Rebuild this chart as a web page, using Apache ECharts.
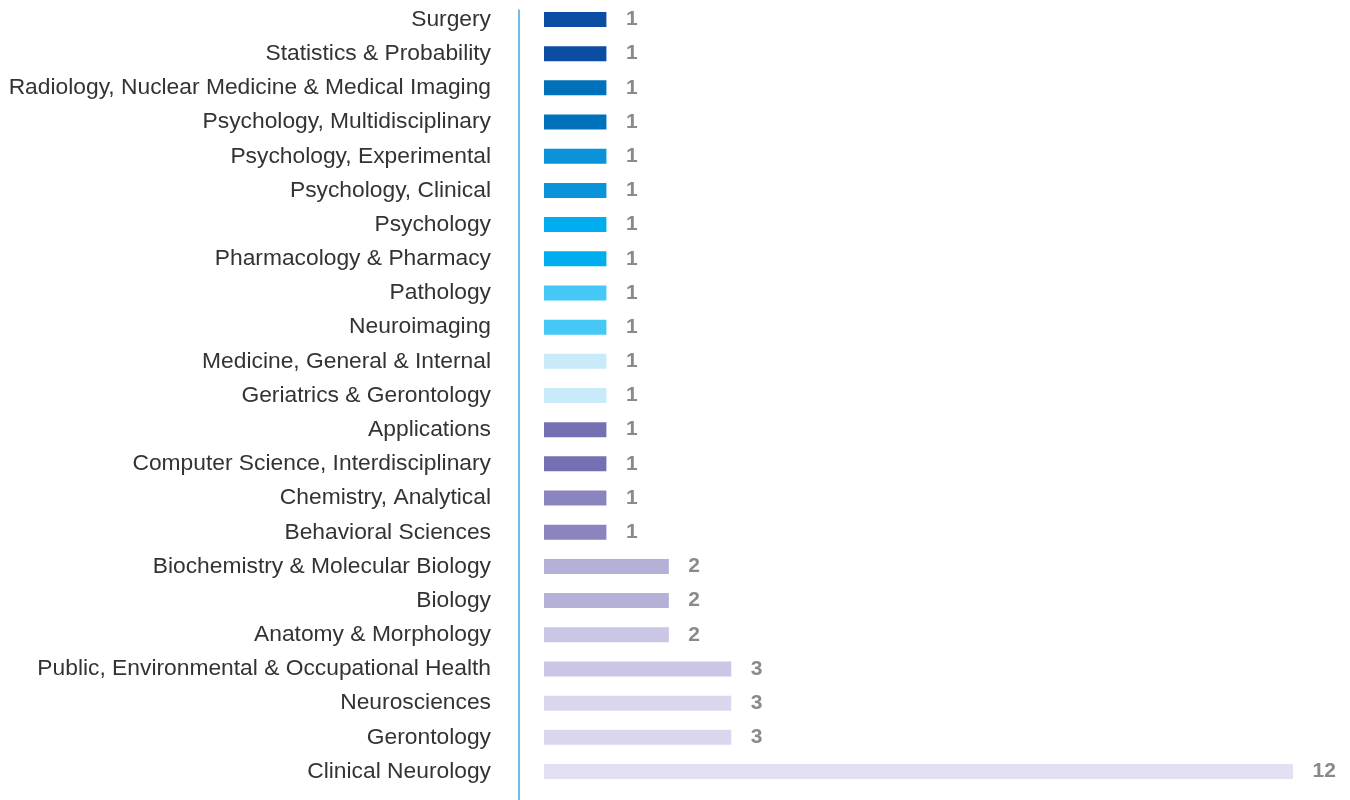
<!DOCTYPE html>
<html>
<head>
<meta charset="utf-8">
<script src="https://cdn.jsdelivr.net/npm/echarts@6/dist/echarts.min.js"></script>
<style>
    html, body { margin: 0; padding: 0; background: #fff; }
    #chart { width: 1350px; height: 800px; }
</style>
</head>
<body>
<div id="chart"></div>
<script>
var categories = [
    'Surgery',
    'Statistics & Probability',
    'Radiology, Nuclear Medicine & Medical Imaging',
    'Psychology, Multidisciplinary',
    'Psychology, Experimental',
    'Psychology, Clinical',
    'Psychology',
    'Pharmacology & Pharmacy',
    'Pathology',
    'Neuroimaging',
    'Medicine, General & Internal',
    'Geriatrics & Gerontology',
    'Applications',
    'Computer Science, Interdisciplinary',
    'Chemistry, Analytical',
    'Behavioral Sciences',
    'Biochemistry & Molecular Biology',
    'Biology',
    'Anatomy & Morphology',
    'Public, Environmental & Occupational Health',
    'Neurosciences',
    'Gerontology',
    'Clinical Neurology'
];

var counts = [1, 1, 1, 1, 1, 1, 1, 1, 1, 1, 1, 1, 1, 1, 1, 1, 2, 2, 2, 3, 3, 3, 12];

// one colour per row, top to bottom
var barColors = [
    '#0b4da2', '#0b4da2',
    '#0072bc', '#0072bc',
    '#0b93d9', '#0b93d9',
    '#00aeef', '#00aeef',
    '#45c8f5', '#45c8f5',
    '#c8eaf9', '#c8eaf9',
    '#7670b2', '#7670b2',
    '#8a85bf', '#8a85bf',
    '#b4b1d8', '#b4b1d8',
    '#c9c6e6', '#c9c6e6',
    '#d9d6ed', '#d9d6ed',
    '#e2e0f2'
];

var chart = echarts.init(document.getElementById('chart'));

var barData = counts.map(function (v, i) {
    return { value: v, itemStyle: { color: barColors[i] } };
});

var option = {
    animation: false,
    textStyle: { fontFamily: 'Liberation Sans, Arial, sans-serif' },
    grid: [
        { left: 544, width: 749, top: 2.4, height: 786.2 },
        { left: 544, width: 749, top: 10, bottom: 0 }
    ],
    xAxis: [
        { gridIndex: 0, type: 'value', min: 0, max: 12, show: false },
        { gridIndex: 1, type: 'value', min: 0, max: 1, show: false }
    ],
    yAxis: [
        {
            gridIndex: 0,
            type: 'category',
            data: categories,
            inverse: true,
            offset: 25,
            axisLine: { show: false },
            axisTick: { show: false },
            splitLine: { show: false },
            axisLabel: {
                margin: 28,
                fontSize: 22.8,
                color: '#333333',
                fontFamily: 'Liberation Sans, Arial, sans-serif'
            }
        },
        {
            // only the thin blue rule next to the labels
            gridIndex: 1,
            type: 'value',
            min: 0,
            max: 1,
            offset: 25,
            axisLine: { show: true, onZero: false, lineStyle: { color: '#3ea8df', width: 1.5 } },
            axisTick: { show: false },
            axisLabel: { show: false },
            splitLine: { show: false }
        }
    ],
    series: [
        {
            type: 'bar',
            xAxisIndex: 0,
            yAxisIndex: 0,
            data: barData,
            barWidth: 15,
            label: {
                show: true,
                position: 'right',
                distance: 19.5,
                fontSize: 21,
                fontWeight: 'bold',
                color: '#8a8a8a',
                fontFamily: 'Liberation Sans, Arial, sans-serif'
            }
        }
    ]
};

chart.setOption(option);
</script>
</body>
</html>
